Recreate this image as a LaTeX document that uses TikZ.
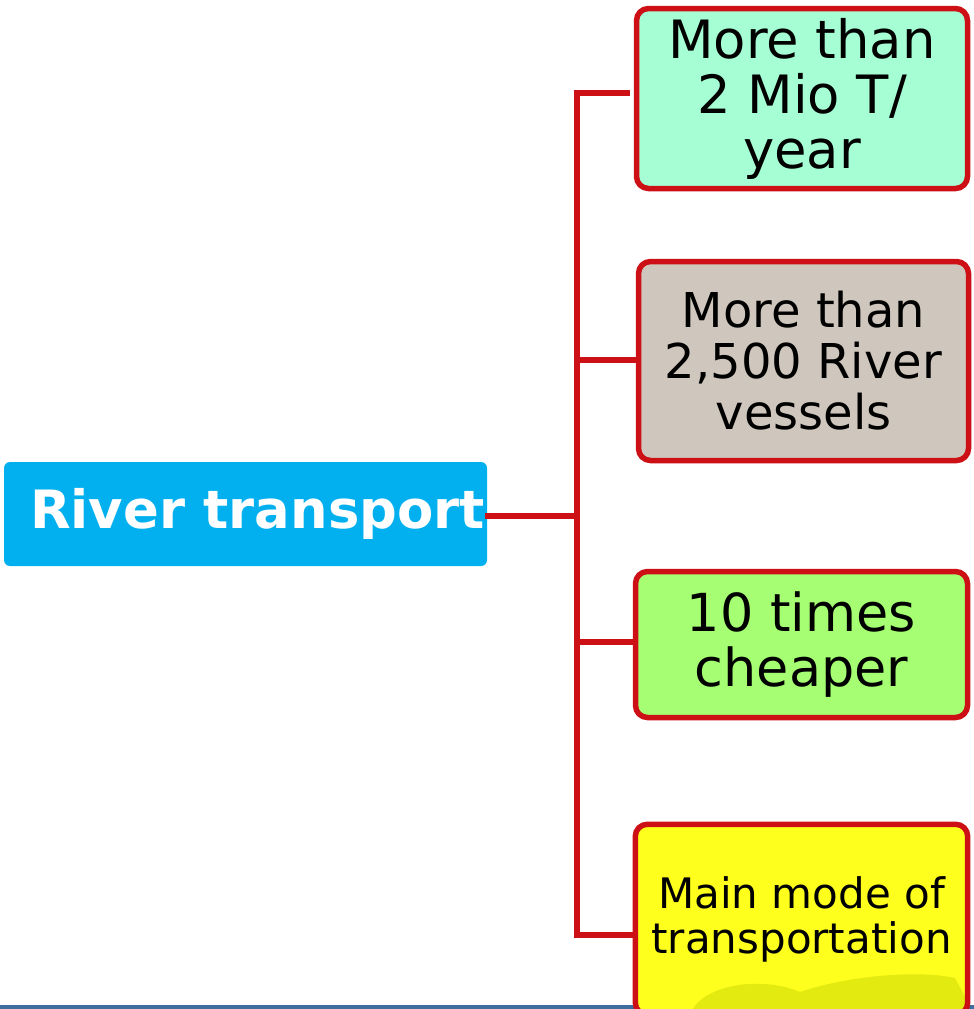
\documentclass[tikz,border=0pt]{standalone}
\usepackage{fontspec}
\setmainfont{DejaVu Sans}
\definecolor{rootblue}{HTML}{02B0F0}
\definecolor{linered}{HTML}{CC1016}
\definecolor{mint}{HTML}{A6FFD4}
\definecolor{beige}{HTML}{CFC7BD}
\definecolor{lgreen}{HTML}{A6FF73}
\definecolor{yel}{HTML}{FFFF1E}
\definecolor{blob}{HTML}{E3EA10}
\definecolor{baseblue}{HTML}{3F6E9E}
\begin{document}
\begin{tikzpicture}[x=1pt,y=-1pt,
  leaf/.style={draw=linered, line width=5.5pt, rounded corners=12pt, align=center, inner sep=0pt, text=black},
  conn/.style={draw=linered, line width=5.5pt}]
\useasboundingbox (0,0) rectangle (974,1009);
\clip (0,0) rectangle (974,1009);
% bottom rule
\fill[baseblue] (0,1005) rectangle (974,1009);
% root
\node[fill=rootblue, rounded corners=6pt, minimum width=483pt, minimum height=104pt, inner sep=0pt] (root) at (245.5,514) {};
\node[text=white, font=\fontsize{52.8}{55}\selectfont\bfseries, inner sep=0pt] (roottext) at (257.5,514) {River transport};
% leaves
\node[leaf, fill=mint, minimum width=331pt, minimum height=180pt, font=\fontsize{52.8}{55}\selectfont] (b1) at (802,98.5) {More than\\2 Mio T/\\year};
\node[leaf, fill=beige, minimum width=330pt, minimum height=199pt, font=\fontsize{48}{51}\selectfont] (b2) at (803.5,361) {More than\\2,500 River\\vessels};
\node[leaf, fill=lgreen, minimum width=332pt, minimum height=146pt, font=\fontsize{52.4}{55}\selectfont] (b3) at (801.5,644.5) {10 times\\cheaper};
\node[fill=yel, rounded corners=12pt, minimum width=332pt, minimum height=190pt, inner sep=0pt] (b4) at (801.5,919.5) {};
\begin{scope}
\clip[rounded corners=12pt] (b4.south west) rectangle (b4.north east);
\fill[blob] (690,1015) .. controls (700,985) and (760,975) .. (800,992)
  .. controls (850,975) and (920,970) .. (955,978) -- (975,1015) -- cycle;
\end{scope}
\draw[linered, line width=5.5pt, rounded corners=12pt] (b4.south west) rectangle (b4.north east);
\node[font=\fontsize{42}{45}\selectfont, align=center, inner sep=0pt] (b4text) at (801.5,919) {Main mode of\\transportation};
% connectors
\coordinate (j) at (577,516);
\coordinate (t1) at (577,93);
\coordinate (t2) at (577,360);
\coordinate (t3) at (577,642);
\coordinate (t4) at (577,935);
\coordinate (e1) at (630,93);
\draw[conn] (485,516) -- (j);
\draw[conn, line cap=rect] (t1) -- (t4);
\draw[conn] (t1) -- (e1);
\draw[conn] (t2) -- (b2.west |- t2);
\draw[conn] (t3) -- (b3.west |- t3);
\draw[conn] (t4) -- (b4.west |- t4);
\end{tikzpicture}
\end{document}
